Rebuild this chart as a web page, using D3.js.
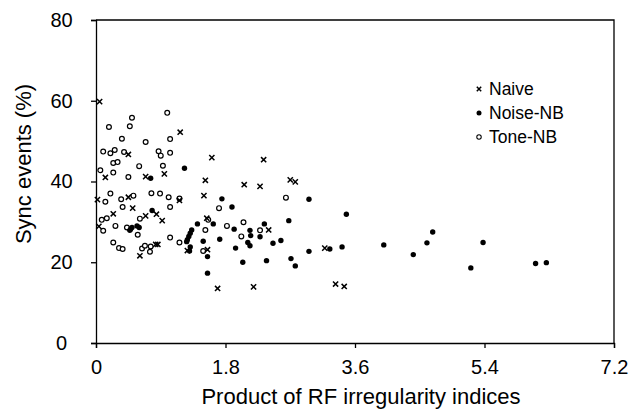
<!DOCTYPE html>
<html>
<head>
<meta charset="utf-8">
<script src="https://cdn.jsdelivr.net/npm/d3@7"></script>
<style>
  body { margin: 0; background: #fff; }
  svg text { font-family: "Liberation Sans", Arial, sans-serif; fill: #000; }
</style>
</head>
<body>
<svg id="chart" width="641" height="416"></svg>
<script>
// values [x, y]
const naive = [
  [0.05, 59.8], [0.02, 35.5], [0.04, 28.9], [0.13, 41.0], [0.24, 32.0], [0.45, 46.7],
  [0.45, 36.1], [0.51, 33.4], [0.61, 21.6], [0.69, 41.2], [0.69, 31.5], [0.84, 31.9],
  [0.83, 24.4], [0.86, 24.4], [0.92, 30.3], [0.95, 41.9], [1.17, 52.2], [1.16, 35.3],
  [1.27, 22.9], [1.52, 40.3], [1.50, 36.5], [1.54, 30.9], [1.55, 23.1], [1.61, 45.9],
  [1.69, 13.5], [2.06, 39.2], [2.19, 13.9], [2.28, 38.8], [2.33, 45.4], [2.40, 28.0],
  [2.70, 40.4], [2.77, 39.9], [3.18, 23.5], [3.33, 14.6], [3.45, 14.0]
];
const noiseNB = [
  [0.47, 27.9], [0.48, 28.2], [0.50, 28.6], [0.57, 29.0], [0.60, 28.6], [0.76, 40.8],
  [0.78, 32.8], [1.23, 43.3], [1.26, 25.1], [1.27, 25.6], [1.29, 26.4], [1.31, 27.2],
  [1.33, 28.0], [1.31, 23.8], [1.30, 22.8], [1.41, 29.5], [1.49, 25.2], [1.55, 21.4],
  [1.55, 17.3], [1.63, 29.5], [1.72, 25.7], [1.75, 35.7], [1.89, 33.7], [1.92, 28.2],
  [1.94, 23.5], [2.04, 20.0], [2.14, 27.9], [2.15, 26.6], [2.11, 24.9], [2.14, 24.1],
  [2.28, 26.3], [2.34, 29.5], [2.37, 20.4], [2.46, 24.7], [2.57, 25.4], [2.68, 30.3],
  [2.71, 20.9], [2.77, 19.1], [2.96, 35.6], [2.96, 22.7], [3.25, 23.3], [3.42, 23.8],
  [3.48, 31.9], [4.00, 24.3], [4.41, 21.9], [4.60, 24.8], [4.68, 27.5], [5.21, 18.6],
  [5.38, 24.9], [6.11, 19.7], [6.26, 19.9]
];
const toneNB = [
  [0.18, 53.5], [0.50, 55.8], [0.47, 53.7], [0.99, 57.0], [0.36, 50.6], [0.69, 49.8],
  [1.03, 50.5], [0.10, 47.4], [0.20, 47.0], [0.26, 47.8], [0.39, 47.3], [0.87, 47.5],
  [0.90, 46.4], [1.03, 47.1], [0.24, 44.6], [0.30, 44.8], [0.60, 43.8], [0.93, 43.9],
  [0.06, 42.8], [0.24, 42.2], [0.45, 41.1], [0.13, 35.0], [0.20, 37.0], [0.35, 35.6],
  [0.37, 33.7], [0.52, 36.5], [0.77, 37.1], [0.89, 37.0], [1.01, 36.1], [1.16, 35.8],
  [1.03, 33.7], [0.08, 30.5], [0.15, 30.9], [0.10, 27.8], [0.27, 29.0], [0.43, 28.6],
  [0.58, 26.8], [0.61, 30.8], [0.24, 24.9], [0.32, 23.5], [0.37, 23.3], [0.64, 23.4],
  [0.68, 24.1], [0.76, 23.9], [0.75, 22.6], [1.03, 26.1], [1.16, 24.9], [1.71, 33.4],
  [2.64, 36.0], [1.56, 30.5], [1.52, 28.0], [1.82, 29.0], [2.05, 29.9], [2.28, 27.9],
  [2.02, 26.4], [1.49, 22.8]
];
const xTicks = [0, 1.8, 3.6, 5.4, 7.2];
const yTicks = [0, 20, 40, 60, 80];
const legendLabels = ['Naive', 'Noise-NB', 'Tone-NB'];

const svg = d3.select('#chart'),
  margin = {top: 20, left: 96},
  width = 518,
  height = 323;

const x = d3.scaleLinear().domain([0, 7.2]).range([0, width]);
const y = d3.scaleLinear().domain([0, 80]).range([height, 0]);
const g = svg.append('g')
  .attr('transform', 'translate(' + margin.left + ',' + margin.top + ')');

// frame (top and right)
g.append('path')
  .attr('d', 'M0,0H' + width + 'V' + height)
  .attr('fill', 'none')
  .attr('stroke', '#000')
  .attr('stroke-width', 1.3);

const xAxis = g.append('g')
  .attr('transform', 'translate(0,' + height + ')')
  .call(d3.axisBottom(x).tickValues(xTicks).tickSize(5).tickPadding(12)
    .tickFormat(d => d === 0 ? '0' : d3.format('.1f')(d)));
const yAxis = g.append('g')
  .call(d3.axisLeft(y).tickValues(yTicks).tickSize(5).tickPadding(18));

[xAxis, yAxis].forEach(a => {
  a.select('.domain').attr('stroke-width', 1.3);
  a.selectAll('.tick line').attr('stroke-width', 1.3);
  a.selectAll('text').attr('font-size', 20).attr('font-family', '"Liberation Sans", Arial, sans-serif');
});
// y labels sit centred in the margin
yAxis.selectAll('text').attr('text-anchor', 'middle').attr('x', -34.5);

// axis titles
svg.append('text')
  .attr('x', 361).attr('y', 404)
  .attr('text-anchor', 'middle')
  .attr('font-size', 22)
  .text('Product of RF irregularity indices');
svg.append('text')
  .attr('transform', 'translate(31,164)rotate(-90)')
  .attr('text-anchor', 'middle')
  .attr('font-size', 22)
  .text('Sync events (%)');

function cross(sel, s) {
  sel.append('path')
    .attr('d', 'M' + (-s) + ',' + (-s) + 'L' + s + ',' + s + 'M' + (-s) + ',' + s + 'L' + s + ',' + (-s))
    .attr('stroke', '#000')
    .attr('stroke-width', 1.5)
    .attr('fill', 'none');
}

// Tone-NB open circles
g.selectAll('.tone')
  .data(toneNB)
  .enter().append('circle')
  .attr('class', 'tone')
  .attr('cx', d => x(d[0]))
  .attr('cy', d => y(d[1]))
  .attr('r', 2.4)
  .attr('fill', '#fff')
  .attr('stroke', '#000')
  .attr('stroke-width', 1.2);

// Noise-NB filled circles
g.selectAll('.noise')
  .data(noiseNB)
  .enter().append('circle')
  .attr('class', 'noise')
  .attr('cx', d => x(d[0]))
  .attr('cy', d => y(d[1]))
  .attr('r', 2.7)
  .attr('fill', '#000');

// Naive crosses
g.selectAll('.naive')
  .data(naive)
  .enter().append('g')
  .attr('class', 'naive')
  .attr('transform', d => 'translate(' + x(d[0]) + ',' + y(d[1]) + ')')
  .call(cross, 2.6);

// legend
const legend = svg.append('g').attr('transform', 'translate(479,89)');
legendLabels.forEach((lab, i) => {
  const row = legend.append('g').attr('transform', 'translate(0,' + (i * 24) + ')');
  if (i === 0) {
    cross(row, 2.2);
  } else if (i === 1) {
    row.append('circle').attr('r', 2.5).attr('fill', '#000');
  } else {
    row.append('circle').attr('r', 2.2).attr('fill', '#fff').attr('stroke', '#000').attr('stroke-width', 1.1);
  }
  row.append('text')
    .attr('x', 10).attr('dy', '0.35em')
    .attr('font-size', 17.5)
    .text(lab);
});
</script>
</body>
</html>
